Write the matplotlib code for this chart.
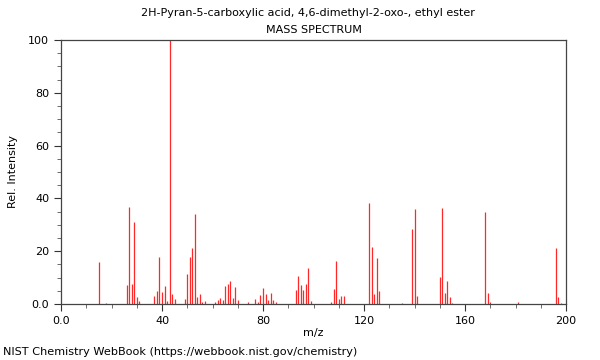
import matplotlib
matplotlib.use("Agg")
import matplotlib.pyplot as plt
from matplotlib.ticker import MultipleLocator, FixedLocator

title_line1 = "2H-Pyran-5-carboxylic acid, 4,6-dimethyl-2-oxo-, ethyl ester"
title_line2 = "MASS SPECTRUM"
footer = "NIST Chemistry WebBook (https://webbook.nist.gov/chemistry)"

mz = [15, 18, 26, 27, 28, 29, 30, 31,
      37, 38, 39, 40, 41, 42, 43, 44, 45,
      49, 50, 51, 52, 53, 54, 55, 56, 57,
      61, 62, 63, 64, 65, 66, 67, 68, 69, 70, 74,
      77, 78, 79, 80, 81, 82, 83, 84, 85,
      93, 94, 95, 96, 97, 98, 99,
      107, 108, 109, 110, 111, 112,
      122, 123, 124, 125, 126, 135,
      139, 140, 141,
      150, 151, 152, 153, 154, 155,
      168, 169, 170, 181,
      196, 197, 198]
intensity = [15.9, 0.5, 7.2, 36.7, 7.6, 31.2, 2.6, 1.1,
             3.0, 5.0, 17.8, 4.4, 7.0, 1.1, 100.0, 3.8, 1.9,
             1.8, 11.4, 17.8, 21.2, 34.0, 2.6, 3.9, 0.6, 1.1,
             0.7, 1.4, 2.1, 1.4, 6.7, 7.5, 8.6, 2.1, 6.3, 1.4, 0.7,
             1.8, 0.9, 3.3, 6.0, 3.9, 1.4, 4.2, 1.6, 0.8,
             5.3, 10.6, 7.2, 5.3, 7.7, 13.6, 1.1,
             0.8, 5.7, 16.4, 1.8, 2.9, 2.9,
             38.1, 21.6, 3.8, 17.4, 4.9, 0.5,
             28.4, 35.9, 3.0,
             10.4, 36.2, 4.0, 8.7, 2.8, 0.4,
             34.8, 4.0, 0.6, 0.8,
             21.3, 2.8, 0.4]

x_ticks = [0, 40, 80, 120, 160, 200]
x_ticklabels = ["0.0", "40", "80", "120", "160", "200"]
y_ticks = [0, 20, 40, 60, 80, 100]
y_ticklabels = ["0.0", "20", "40", "60", "80", "100"]

fig = plt.figure(figsize=(6, 3.6), dpi=100)
ax = fig.add_axes([61/600, 1 - 304/360, (566 - 61)/600, (304 - 40)/360])

ax.vlines(mz, 0, intensity, colors="#ff2828", linewidth=0.9)

ax.set_xlim(0, 200)
ax.set_ylim(0, 100)
ax.xaxis.set_major_locator(FixedLocator(x_ticks))
ax.set_xticklabels(x_ticklabels)
ax.yaxis.set_major_locator(FixedLocator(y_ticks))
ax.set_yticklabels(y_ticklabels)
ax.xaxis.set_minor_locator(MultipleLocator(10))
ax.yaxis.set_minor_locator(MultipleLocator(5))
ax.tick_params(which="major", direction="out", length=5, width=0.8,
               labelsize=8, colors="#333333", labelcolor="black")
ax.tick_params(which="minor", direction="out", length=3, width=0.6, colors="#555555")

for s in ax.spines.values():
    s.set_color("#444444")
    s.set_linewidth(0.9)

ax.set_xlabel("m/z", fontsize=8)
ax.set_ylabel("Rel. Intensity", fontsize=8)
ax.yaxis.set_label_coords((13 - 61) / 505, 0.5)
ax.xaxis.set_label_coords(0.5, -(333 - 304) / 264)
ax.xaxis.label.set_va("center")
ax.yaxis.label.set_va("center")

fig.text(307.5/600, 1 - 13/360, title_line1, ha="center", va="center", fontsize=8)
fig.text(313.5/600, 1 - 30/360, title_line2, ha="center", va="center", fontsize=8)
fig.text(3/600, 1 - 352/360, footer, ha="left", va="center", fontsize=8.1)

fig.savefig("out.png", dpi=100)
